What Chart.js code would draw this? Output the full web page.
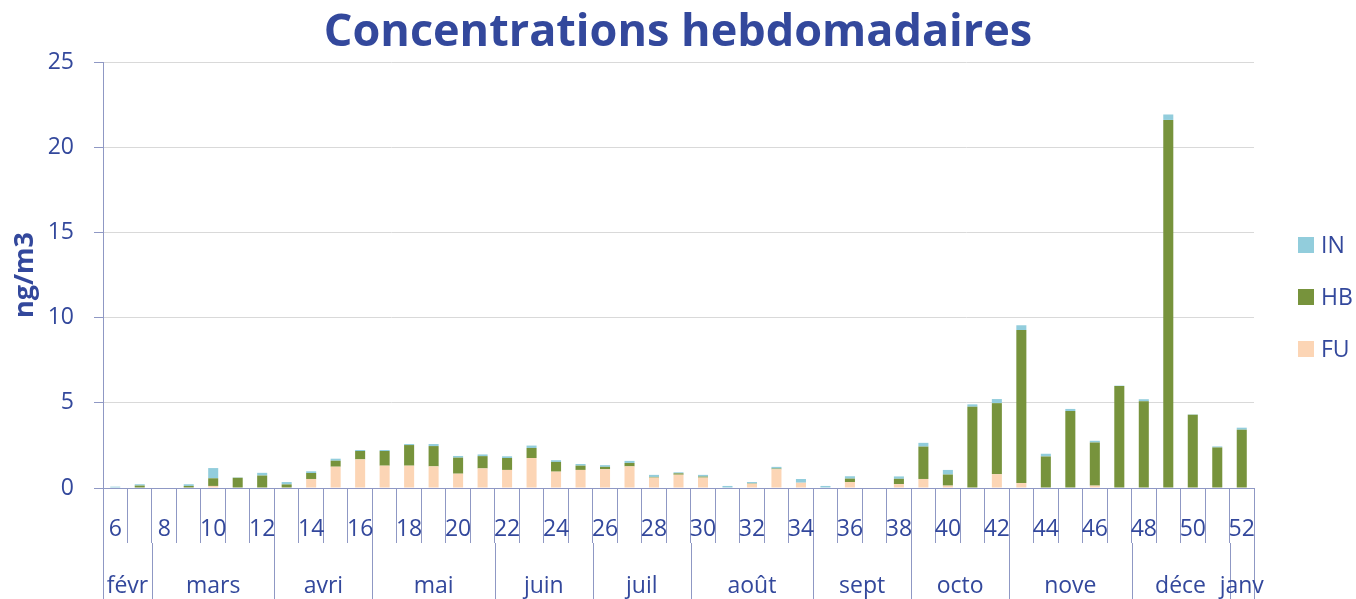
<!DOCTYPE html>
<html>
<head>
<meta charset="utf-8">
<title>Concentrations hebdomadaires</title>
<script src="https://cdn.jsdelivr.net/npm/chart.js@4/dist/chart.umd.min.js"></script>
<style>
  html, body { margin: 0; padding: 0; background: #fff; }
  #wrap { width: 1356px; height: 599px; }
</style>
</head>
<body>
<div id="wrap"><canvas id="chart"></canvas></div>
<script>
// weeks 6 to 52
const weeks = ['6','7','8','9','10','11','12','13','14','15','16','17','18','19','20','21','22','23','24','25','26','27','28','29','30','31','32','33','34','35','36','37','38','39','40','41','42','43','44','45','46','47','48','49','50','51','52'];

const fuValues = [0, 0, 0, 0, 0.12, 0, 0.03, 0.03, 0.53, 1.25, 1.68, 1.31, 1.31, 1.27, 0.84, 1.15, 1.06, 1.76, 0.96, 1.06, 1.1, 1.27, 0.61, 0.78, 0.61, 0, 0.25, 1.1, 0.31, 0, 0.35, 0, 0.23, 0.53, 0.14, 0, 0.81, 0.29, 0, 0, 0.14, 0, 0, 0, 0, 0, 0];
const hbValues = [0, 0.14, 0, 0.12, 0.45, 0.6, 0.7, 0.18, 0.35, 0.35, 0.49, 0.86, 1.21, 1.19, 0.94, 0.72, 0.7, 0.59, 0.57, 0.25, 0.14, 0.2, 0.04, 0.08, 0.06, 0, 0.02, 0.04, 0, 0, 0.2, 0, 0.31, 1.9, 0.65, 4.77, 4.17, 8.98, 1.85, 4.52, 2.53, 5.99, 5.09, 21.6, 4.3, 2.38, 3.42];
const inValues = [0.08, 0.08, 0, 0.1, 0.6, 0.02, 0.16, 0.14, 0.1, 0.12, 0.06, 0.06, 0.06, 0.12, 0.1, 0.1, 0.1, 0.14, 0.1, 0.1, 0.1, 0.12, 0.12, 0.06, 0.1, 0.12, 0.08, 0.1, 0.22, 0.12, 0.14, 0, 0.14, 0.22, 0.27, 0.14, 0.24, 0.28, 0.16, 0.12, 0.1, 0.02, 0.12, 0.32, 0.02, 0.06, 0.12];

// month groups under the week numbers
const months = ['févr', 'mars', 'avri', 'mai', 'juin', 'juil', 'août', 'sept', 'octo', 'nove', 'déce', 'janv'];
const monthWeeks = [2, 5, 4, 5, 4, 4, 5, 4, 4, 5, 4, 1];

const TEXT = '#33489c';
const AXIS = '#8f98c4';
const GRID = '#d9d9d9';
const FONT = "'Open Sans', 'Noto Sans', sans-serif";

// week numbers, month row and legend
const axisLabels = {
    id: 'axisLabels',
    afterDraw(chart) {
        const { ctx, scales: { x } } = chart;
        const slot = x.getPixelForValue(1) - x.getPixelForValue(0);
        ctx.save();
        ctx.fillStyle = TEXT;
        ctx.font = '23px ' + FONT;
        ctx.textAlign = 'center';
        ctx.textBaseline = 'alphabetic';
        weeks.forEach((w, i) => {
            if (Number(w) % 2 === 0) ctx.fillText(w, x.getPixelForValue(i), x.top + 48);
        });

        ctx.strokeStyle = AXIS;
        ctx.lineWidth = 1;
        let start = 0;
        months.forEach((m, k) => {
            const left = x.getPixelForValue(start) - slot / 2;
            const right = x.getPixelForValue(start + monthWeeks[k] - 1) + slot / 2;
            ctx.beginPath();
            ctx.moveTo(Math.round(left) + 0.5, x.bottom);
            ctx.lineTo(Math.round(left) + 0.5, chart.height);
            if (k === months.length - 1) {
                ctx.moveTo(Math.round(right) + 0.5, x.bottom);
                ctx.lineTo(Math.round(right) + 0.5, chart.height);
            }
            ctx.stroke();
            ctx.fillText(m, (left + right) / 2, x.bottom + 50);
            start += monthWeeks[k];
        });

        // legend, top item is the top of the stack
        const items = chart.data.datasets.slice().reverse();
        ctx.textAlign = 'left';
        ctx.textBaseline = 'middle';
        items.forEach((ds, i) => {
            const cy = 245 + i * 52;
            ctx.fillStyle = ds.backgroundColor;
            ctx.fillRect(1298, cy - 8, 16, 16);
            ctx.fillStyle = TEXT;
            ctx.fillText(ds.label, 1321, cy + 1);
        });
        ctx.restore();
    }
};

new Chart(document.getElementById('chart'), {
    type: 'bar',
    data: {
        labels: weeks,
        datasets: [
            { label: 'FU', data: fuValues, backgroundColor: '#fcd5b5' },
            { label: 'HB', data: hbValues, backgroundColor: '#77933c' },
            { label: 'IN', data: inValues, backgroundColor: '#92cddc' }
        ]
    },
    options: {
        responsive: true,
        maintainAspectRatio: false,
        animation: false,
        devicePixelRatio: 1,
        layout: { padding: { left: 0, right: 0, top: 0, bottom: 56 } },
        datasets: { bar: { barPercentage: 0.41, categoryPercentage: 1, borderWidth: 0 } },
        plugins: {
            legend: { display: false },
            tooltip: { enabled: false },
            title: {
                display: true,
                text: 'Concentrations hebdomadaires',
                color: TEXT,
                font: { family: FONT, size: 45, weight: 'bold' },
                padding: { top: 6, bottom: 2 }
            }
        },
        scales: {
            x: {
                stacked: true,
                offset: true,
                grid: { offset: true, drawOnChartArea: false, tickLength: 55, color: AXIS },
                border: { color: AXIS },
                ticks: { display: false }
            },
            y: {
                stacked: true,
                min: 0,
                max: 25,
                afterFit: (scale) => { scale.width = 103; },
                ticks: { stepSize: 5, color: TEXT, padding: 20, font: { family: FONT, size: 23 } },
                grid: { color: GRID, tickColor: AXIS, tickLength: 9 },
                border: { color: AXIS },
                title: {
                    display: true,
                    text: 'ng/m3',
                    color: TEXT,
                    font: { family: FONT, size: 27, weight: 'bold' },
                    padding: { top: 9, bottom: 0 }
                }
            },
            // empty right-hand band that holds the legend
            legendBand: {
                position: 'right',
                display: true,
                afterFit: (scale) => { scale.width = 102; },
                grid: { drawOnChartArea: false, drawTicks: false },
                border: { display: false },
                ticks: { display: false }
            }
        }
    },
    plugins: [axisLabels]
});
</script>
</body>
</html>
